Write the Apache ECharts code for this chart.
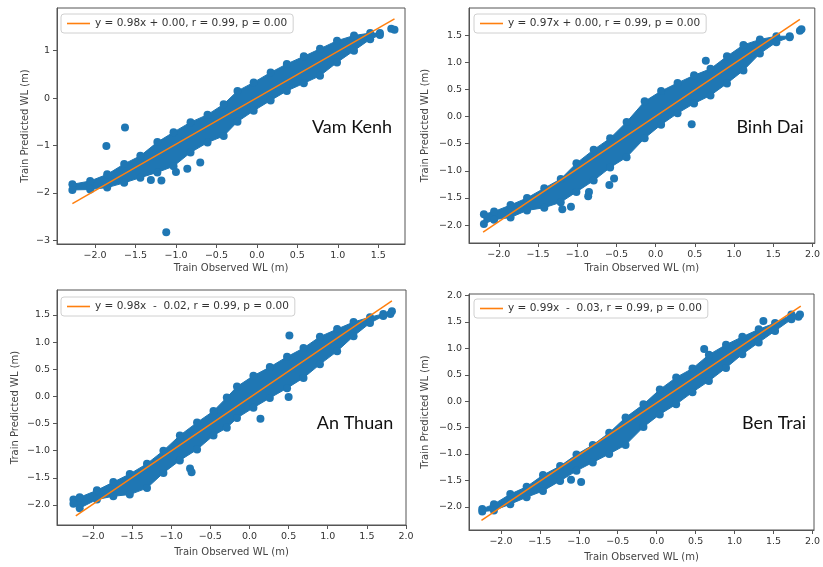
<!DOCTYPE html>
<html>
<head>
<meta charset="utf-8">
<script src="https://cdn.jsdelivr.net/npm/echarts@6/dist/echarts.min.js"></script>
<style>
html,body{margin:0;padding:0;background:#fff;}
#chart{width:823px;height:567px;}
</style>
</head>
<body>
<div id="chart"></div>
<script>
// ---------- Data ----------
const stationNames = ['Vam Kenh', 'Binh Dai', 'An Thuan', 'Ben Trai'];
const fitLabels = [
  'y = 0.98x + 0.00, r = 0.99, p = 0.00',
  'y = 0.97x + 0.00, r = 0.99, p = 0.00',
  'y = 0.98x  -  0.02, r = 0.99, p = 0.00',
  'y = 0.99x  -  0.03, r = 0.99, p = 0.00'
];

// Vam Kenh: dense point cloud (column x, upper-edge point y, lower-edge point y) + isolated points
const vkX      = [-2.28,-2.06,-1.85,-1.64,-1.44,-1.23,-1.03,-0.82,-0.61,-0.41,-0.24,-0.04,0.17,0.37,0.58,0.78,0.99,1.20,1.40,1.52];
const vkTop    = [-1.82,-1.75,-1.61,-1.39,-1.22,-0.93,-0.72,-0.51,-0.35,-0.13,0.15,0.33,0.54,0.72,0.88,1.04,1.21,1.32,1.37,1.37];
const vkBottom = [-1.94,-1.93,-1.89,-1.79,-1.68,-1.57,-1.44,-1.15,-0.94,-0.80,-0.50,-0.27,-0.05,0.15,0.31,0.47,0.75,1.00,1.24,1.33];
const vkOther  = [[-1.63,-0.62],[-1.86,-1.01],[-1.12,-2.83],[-1.00,-1.56],[-0.86,-1.49],[-0.70,-1.36],[-1.31,-1.73],[-1.18,-1.74],[1.66,1.46],[1.70,1.44]];
const vkLineX  = [-2.28, 1.70];
const vkLineY  = [-2.23, 1.67];

// Binh Dai
const bdX      = [-2.19,-2.06,-1.85,-1.64,-1.42,-1.21,-1.01,-0.79,-0.58,-0.37,-0.14,0.07,0.28,0.49,0.70,0.91,1.12,1.33,1.54,1.71];
const bdTop    = [-1.80,-1.75,-1.63,-1.50,-1.32,-1.15,-0.86,-0.61,-0.40,-0.10,0.28,0.47,0.62,0.76,0.88,1.11,1.32,1.42,1.48,1.48];
const bdBottom = [-1.98,-1.90,-1.86,-1.73,-1.68,-1.58,-1.39,-1.18,-0.94,-0.75,-0.40,-0.15,0.06,0.24,0.39,0.61,0.85,1.16,1.37,1.46];
const bdOther  = [[-1.19,-1.71],[-1.08,-1.66],[-0.86,-1.47],[-0.85,-1.39],[-0.59,-1.26],[-0.53,-1.14],[0.46,-0.14],[0.64,1.03],[1.84,1.58],[1.86,1.61]];
const bdLineX  = [-2.20, 1.84];
const bdLineY  = [-2.13, 1.79];

// An Thuan
const atX      = [-2.25,-2.17,-1.95,-1.74,-1.53,-1.31,-1.10,-0.89,-0.67,-0.46,-0.29,-0.16,0.05,0.26,0.48,0.69,0.90,1.12,1.33,1.54,1.71];
const atTop    = [-1.90,-1.86,-1.73,-1.58,-1.43,-1.24,-1.00,-0.72,-0.48,-0.27,-0.02,0.18,0.38,0.54,0.73,0.89,1.10,1.24,1.37,1.46,1.52];
const atBottom = [-1.98,-2.06,-1.90,-1.84,-1.81,-1.69,-1.41,-1.18,-0.98,-0.72,-0.58,-0.40,-0.21,-0.03,0.15,0.34,0.59,0.83,1.11,1.35,1.48];
const atOther  = [[0.51,1.12],[0.50,-0.01],[0.14,-0.41],[-0.76,-1.33],[-0.74,-1.40],[1.80,1.52],[1.82,1.57]];
const atLineX  = [-2.22, 1.82];
const atLineY  = [-2.20, 1.76];

// Ben Trai
const btX      = [-2.24,-2.09,-1.88,-1.67,-1.46,-1.24,-1.03,-0.82,-0.61,-0.40,-0.17,0.04,0.25,0.46,0.67,0.89,1.10,1.31,1.52,1.73];
const btTop    = [-2.04,-1.95,-1.76,-1.62,-1.40,-1.23,-1.01,-0.83,-0.60,-0.31,-0.06,0.22,0.45,0.62,0.88,1.07,1.22,1.36,1.48,1.64];
const btBottom = [-2.09,-2.07,-1.95,-1.82,-1.70,-1.51,-1.32,-1.16,-1.00,-0.83,-0.49,-0.25,-0.06,0.17,0.38,0.63,0.89,1.11,1.33,1.55];
const btOther  = [[-1.10,-1.49],[-0.97,-1.53],[0.61,0.99],[1.37,1.52],[1.82,1.60],[1.84,1.64]];
const btLineX  = [-2.25, 1.85];
const btLineY  = [-2.26, 1.80];

// Tick labels
const xTicksA  = [-2.0,-1.5,-1.0,-0.5,0.0,0.5,1.0,1.5];
const xTicksB  = [-2.0,-1.5,-1.0,-0.5,0.0,0.5,1.0,1.5,2.0];
const yTicksVK = [-3,-2,-1,0,1];
const yTicksBD = [-2.0,-1.5,-1.0,-0.5,0.0,0.5,1.0,1.5];
const yTicksBT = [-2.0,-1.5,-1.0,-0.5,0.0,0.5,1.0,1.5,2.0];

// ---------- Layout / style ----------
const FONT = 'DejaVu Sans';
const BLUE = '#1f77b4', ORANGE = '#ff7f0e';
const panels = [
  {x: vkX, top: vkTop, bot: vkBottom, other: vkOther, lx: vkLineX, ly: vkLineY,
   grid: {left: 57, top: 8, width: 348, height: 236}, xr: [-2.47, 1.83], yr: [-3.08, 1.90],
   xt: xTicksA, yt: yTicksVK, yd: 0, xGap: 19, yGap: 27, leg: [61, 14], lab: [352, 127]},
  {x: bdX, top: bdTop, bot: bdBottom, other: bdOther, lx: bdLineX, ly: bdLineY,
   grid: {left: 469, top: 8, width: 350, height: 235}, xr: [-2.38, 2.03], yr: [-2.33, 2.00],
   xt: xTicksB, yt: yTicksBD, yd: 1, xGap: 20, yGap: 39, leg: [474, 14], lab: [770, 127]},
  {x: atX, top: atTop, bot: atBottom, other: atOther, lx: atLineX, ly: atLineY,
   grid: {left: 57, top: 290, width: 349, height: 235}, xr: [-2.46, 2.00], yr: [-2.37, 1.96],
   xt: xTicksB, yt: yTicksBD, yd: 1, xGap: 22, yGap: 37, leg: [61, 297], lab: [355, 423]},
  {x: btX, top: btTop, bot: btBottom, other: btOther, lx: btLineX, ly: btLineY,
   grid: {left: 469, top: 294, width: 349, height: 236}, xr: [-2.41, 2.02], yr: [-2.44, 2.03],
   xt: xTicksB, yt: yTicksBT, yd: 1, xGap: 22, yGap: 39, leg: [474, 299], lab: [774, 423]}
];

function fmt(d) { return v => (v < 0 ? '\u2212' : '') + Math.abs(v).toFixed(d); }

const option = {
  animation: false,
  backgroundColor: '#fff',
  grid: panels.map(p => Object.assign({show: true, borderColor: '#555', borderWidth: 1, backgroundColor: 'transparent'}, p.grid)),
  xAxis: panels.map((p, i) => ({
    gridIndex: i, type: 'value', min: p.xr[0], max: p.xr[1],
    axisLine: {show: true, onZero: false, lineStyle: {color: '#555', width: 1}},
    axisTick: {show: true, length: 4, customValues: p.xt, lineStyle: {color: '#555'}},
    axisLabel: {customValues: p.xt, formatter: fmt(1), fontSize: 9.5, color: '#333', fontFamily: FONT, margin: 7},
    splitLine: {show: false},
    name: 'Train Observed WL (m)', nameLocation: 'middle', nameGap: p.xGap,
    nameTextStyle: {fontSize: 10, color: '#444', fontFamily: FONT}
  })),
  yAxis: panels.map((p, i) => ({
    gridIndex: i, type: 'value', min: p.yr[0], max: p.yr[1],
    axisLine: {show: true, onZero: false, lineStyle: {color: '#555', width: 1}},
    axisTick: {show: true, length: 4, customValues: p.yt, lineStyle: {color: '#555'}},
    axisLabel: {customValues: p.yt, formatter: fmt(p.yd), fontSize: 9.5, color: '#333', fontFamily: FONT, margin: 7},
    splitLine: {show: false},
    name: 'Train Predicted WL (m)', nameLocation: 'middle', nameGap: p.yGap, nameRotate: 90,
    nameTextStyle: {fontSize: 10, color: '#444', fontFamily: FONT}
  })),
  legend: panels.map((p, i) => ({
    data: [{name: fitLabels[i], icon: 'rect', itemStyle: {color: ORANGE}}],
    left: p.leg[0], top: p.leg[1], orient: 'horizontal',
    itemWidth: 23, itemHeight: 1.6, itemGap: 5, padding: [4, 6],
    borderColor: '#d0d0d0', borderWidth: 1, borderRadius: 3, backgroundColor: '#fff',
    selectedMode: false,
    textStyle: {fontSize: 10.5, color: '#333', fontFamily: FONT}
  })),
  graphic: panels.map((p, i) => ({
    type: 'text', x: p.lab[0], y: p.lab[1], z: 50,
    style: {text: stationNames[i], fontSize: 18, fontFamily: 'Lato', fill: '#111', align: 'center', verticalAlign: 'middle'}
  })),
  series: []
};

panels.forEach((p, i) => {
  // dense cloud body: polygon through the upper-edge and lower-edge points
  option.series.push({
    type: 'custom', name: 'cloud' + i, xAxisIndex: i, yAxisIndex: i, z: 2, silent: true,
    itemStyle: {opacity: 1},
    data: p.x.map((x, k) => [x, p.top[k], p.bot[k]]),
    encode: {x: 0, y: [1, 2]},
    renderItem: (params, api) => {
      if (params.dataIndex !== 0) return null;
      const up = p.x.map((x, k) => api.coord([x, p.top[k]]));
      const dn = p.x.map((x, k) => api.coord([x, p.bot[k]])).reverse();
      return {type: 'polygon', shape: {points: up.concat(dn)},
              style: {fill: BLUE, stroke: BLUE, lineWidth: 1, opacity: 1}};
    }
  });
  // individual points (edges + isolated)
  const pts = p.x.map((x, k) => [x, p.top[k]])
    .concat(p.x.map((x, k) => [x, p.bot[k]]))
    .concat(p.other);
  option.series.push({
    type: 'scatter', name: 'points' + i, xAxisIndex: i, yAxisIndex: i, z: 3,
    symbol: 'circle', symbolSize: 8, data: pts,
    itemStyle: {color: BLUE, opacity: 1, borderWidth: 0, shadowBlur: 0},
    emphasis: {disabled: true}, silent: true
  });
  // regression line
  option.series.push({
    type: 'line', name: fitLabels[i], xAxisIndex: i, yAxisIndex: i, z: 5,
    data: p.lx.map((x, k) => [x, p.ly[k]]), symbol: 'none', showSymbol: false,
    lineStyle: {color: ORANGE, width: 1.5}, itemStyle: {color: ORANGE}, silent: true
  });
});

const chart = echarts.init(document.getElementById('chart'), null, {renderer: 'canvas'});
chart.setOption(option);
</script>
</body>
</html>
